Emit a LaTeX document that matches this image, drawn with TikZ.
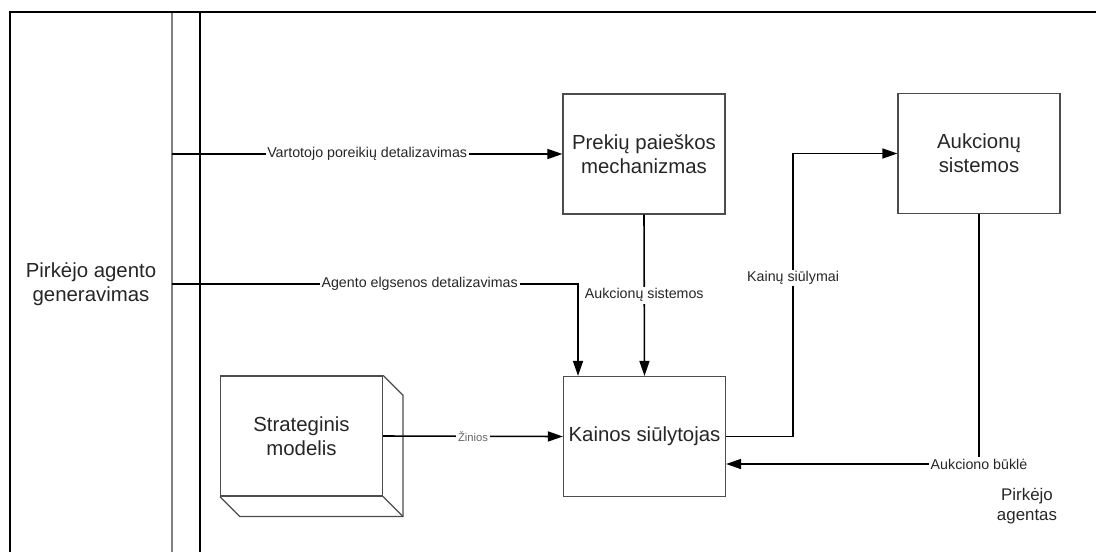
\documentclass[tikz,border=0pt]{standalone}
\usepackage{fontspec}
\setmainfont{Liberation Sans}
\usetikzlibrary{arrows.meta}
\begin{document}
\begin{tikzpicture}[x=0.02cm, y=-0.02cm, font=\fontsize{11.6}{13.7}\selectfont,
  box/.style={draw=black!70, line width=0.7pt, minimum width=3.24cm,
              minimum height=2.4cm, align=center, inner sep=0pt, text=black!85},
  arr/.style={-{Triangle[length=0.3cm,width=0.2cm]}, line width=0.9pt},
  lbl/.style={fill=white, inner sep=1pt, text=black!85,
              font=\fontsize{8.1}{9.5}\selectfont}
]
  \useasboundingbox (0,0) rectangle (1096,552);
  % rėmas ir juostos
  \draw[black!50, line width=0.8pt] (172,12) -- (172,552);
  \draw[line width=0.6pt] (200,12) -- (200,552);
  \draw[line width=1.7pt] (10,552) -- (10,12) -- (1096,12);
  \node[align=center, text=black!85] (gen) at (91,284) {Pirkėjo agento\\generavimas};
  \coordinate (u1) at (172,154);
  \coordinate (u2) at (172,284);
  \node[box] (search) at (644,154)     {Prekių paieškos\\mechanizmas};
  \node[box] (auct)   at (979,153.5)   {Aukcionų\\sistemos};
  \node[box] (bidder) at (644.5,436.5) {Kainos siūlytojas};
  \node[box] (strat)  at (301.5,436)   {Strateginis\\modelis};
  \draw[black!70, line width=0.7pt] (strat.north east) -- ++(20,20)
        -- ([shift={(20,20)}]strat.south east) -- ([shift={(20,20)}]strat.south west)
        -- (strat.south west);
  \draw[black!70, line width=0.7pt] (strat.south east) -- ++(20,20);
  \node[align=center, text=black!85, font=\fontsize{9.6}{11.4}\selectfont]
        (agent) at (1027,506) {Pirkėjo\\agentas};
  % srautai
  \draw[arr] (u1) -- node[lbl]{Vartotojo poreikių detalizavimas} (search.west);
  \draw[arr] (u2) -| node[lbl, pos=0.305]{Agento elgsenos detalizavimas}
        ([xshift=-1.33cm]bidder.north);
  \draw[arr] (search.south) -- node[lbl]{Aukcionų sistemos} (bidder.north);
  \draw[arr] (bidder.east) -- ++(67,0) |- node[lbl, pos=0.28]{Kainų siūlymai} (auct.west);
  \draw[arr] (auct.south) |- node[lbl]{Aukciono būklė} ([yshift=-0.55cm]bidder.east);
  \draw[arr] (strat.east) -- node[lbl, text=black!60,
        font=\fontsize{6.4}{7.5}\selectfont]{Žinios} (bidder.west);
\end{tikzpicture}
\end{document}
